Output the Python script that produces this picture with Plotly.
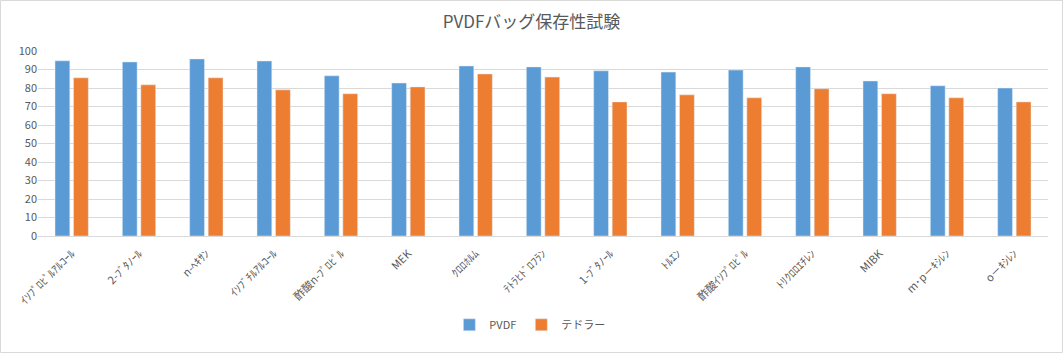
import plotly.graph_objects as go

categories = ["ｲｿﾌﾟﾛﾋﾟﾙｱﾙｺｰﾙ", "2-ﾌﾞﾀﾉｰﾙ", "n-ﾍｷｻﾝ", "ｲｿﾌﾞﾁﾙｱﾙｺｰﾙ", "酢酸n-ﾌﾟﾛﾋﾟﾙ",
              "MEK", "ｸﾛﾛﾎﾙﾑ", "ﾃﾄﾗﾋﾄﾞﾛﾌﾗﾝ", "1-ﾌﾞﾀﾉｰﾙ", "ﾄﾙｴﾝ",
              "酢酸ｲｿﾌﾟﾛﾋﾟﾙ", "ﾄﾘｸﾛﾛｴﾁﾚﾝ", "MIBK", "m･p－ｷｼﾚﾝ", "o－ｷｼﾚﾝ"]
pvdf = [94.7, 94.1, 95.7, 94.6, 86.6, 82.7, 91.9, 91.4, 89.3, 88.6, 89.7, 91.4, 83.8, 81.2, 80.0]
tedlar = [85.5, 81.7, 85.5, 79.0, 76.9, 80.6, 87.6, 85.9, 72.5, 76.3, 74.7, 79.6, 76.9, 74.7, 72.5]
y_ticks = [0, 10, 20, 30, 40, 50, 60, 70, 80, 90, 100]

FONT = "Noto Sans CJK JP"
GRAY = "#595959"

fig = go.Figure()
fig.add_trace(go.Bar(name="PVDF", x=categories, y=pvdf, marker_color="#5B9BD5"))
fig.add_trace(go.Bar(name="テドラー", x=categories, y=tedlar, marker_color="#ED7D31"))

fig.update_layout(
    width=1063, height=353,
    margin=dict(l=38, r=15, t=51, b=117, autoexpand=False),
    paper_bgcolor="white", plot_bgcolor="white",
    font=dict(family=FONT, color=GRAY, size=11),
    title=dict(text="PVDFバッグ保存性試験", x=0.5, xanchor="center", y=1 - 22 / 353,
               yanchor="middle", font=dict(size=17, color=GRAY, family=FONT)),
    barmode="group", bargap=0.45, bargroupgap=0.2,
    showlegend=True,
    legend=dict(orientation="h", x=0.487, xanchor="center", y=-0.48, yanchor="middle",
                font=dict(size=11, color=GRAY), itemwidth=30, traceorder="normal"),
    xaxis=dict(tickangle=-45, tickfont=dict(size=11, color=GRAY), automargin=False,
               ticklabelstandoff=6,
               showline=True, linecolor="#D9D9D9", linewidth=1, showgrid=False),
    yaxis=dict(range=[0, 100], tickvals=y_ticks, showgrid=True, gridcolor="#D9D9D9",
               gridwidth=1, zeroline=False, tickfont=dict(size=11, color=GRAY)),
    shapes=[dict(type="rect", xref="paper", yref="paper",
                 x0=-37.5 / 1010, x1=(1062.5 - 38) / 1010,
                 y0=(236 - 352.5) / 185, y1=(236 - 0.5) / 185,
                 line=dict(color="#D9D9D9", width=1), fillcolor="rgba(0,0,0,0)", layer="below")],
)

fig.write_html("out.html")
